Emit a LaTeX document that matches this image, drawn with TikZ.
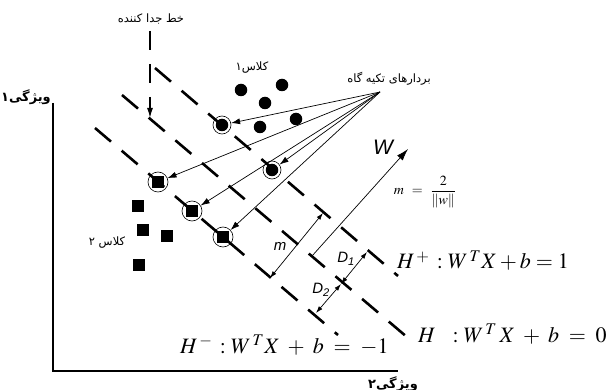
\documentclass[tikz,border=0pt]{standalone}
\usepackage{mathptmx}
\usepackage{fontspec}
\setmainfont{Liberation Serif}
\newfontfamily\fa[Script=Arabic]{DejaVu Sans}
\newfontfamily\arialf{Liberation Sans}
\TeXXeTstate=1
\usetikzlibrary{arrows.meta}
\tikzset{
  hyper/.style={line width=2.6pt, dash pattern=on 21pt off 14pt},
  axisline/.style={line width=2.6pt, line join=miter},
  dot/.style={circle, fill=black, minimum size=12.5pt, inner sep=0pt},
  sq/.style={rectangle, fill=black, minimum size=12pt, inner sep=0pt},
  ring/.style={circle, draw, line width=0.6pt, minimum size=#1, inner sep=0pt},
  ptr/.style={line width=0.7pt, -{Latex[length=9pt,width=6pt]}},
  dim/.style={line width=0.7pt, {Latex[length=7pt,width=4.5pt]}-{Latex[length=7pt,width=4.5pt]}},
  fatext/.style={font=\fa\fontsize{11.5}{13}\selectfont, inner sep=1pt},
  fabold/.style={font=\fa\bfseries\fontsize{13}{15}\selectfont, inner sep=1pt},
  eq/.style={font=\fontsize{22}{26}\selectfont, inner sep=0pt},
  sanslab/.style={font=\arialf\itshape\fontsize{15}{17}\selectfont, inner sep=0pt}
}
\begin{document}
\begin{tikzpicture}[x=1pt,y=-1pt]
\useasboundingbox (0,0) rectangle (613,390);
% axes
\coordinate (ytop) at (53,103);
\coordinate (orig) at (53,371);
\coordinate (xend) at (398,371);
\draw[axisline] (ytop) -- (orig) -- (xend);
\node[fabold, anchor=east] (f1l) at (52,97) {\beginR ویژگی۱\endR};
\node[fabold] (f2l) at (393,384) {\beginR ویژگی۲\endR};
% hyperplanes
\coordinate (ta) at (155,68);  \coordinate (tb) at (398,276);
\coordinate (ma) at (122,95);  \coordinate (mb) at (414,343);
\coordinate (ba) at (95,128);  \coordinate (bb) at (338,335);
\draw[hyper] (ta) -- (tb);
\draw[hyper] (ma) -- (mb);
\draw[hyper] (ba) -- (bb);
% separator label and arrow
\node[fatext] (sepl) at (151,19) {\beginR خط جدا کننده\endR};
\coordinate (septop) at (150,31);
\coordinate (septip) at (150,118);
\draw[line width=1.3pt, dash pattern=on 19pt off 14pt, -{Latex[length=10pt,width=6pt]}] (septop) -- (septip);
% class 1
\node[fatext] (c1l) at (252,68) {\beginR کلاس۱\endR};
\node[dot] (d1) at (241,90) {};
\node[dot] (d2) at (282,85) {};
\node[dot] (d3) at (265,103) {};
\node[dot] (d4) at (260,127) {};
\node[dot] (d5) at (296,119) {};
\node[dot] (d6) at (222,125) {};
\node[dot] (d7) at (272,170) {};
\node[ring=18pt] (r1) at (222,125) {};
\node[ring=18pt] (r2) at (272,170) {};
% class 2
\node[fatext] (c2l) at (107,243) {\beginR کلاس ۲\endR};
\node[sq] (s1) at (138,206) {};
\node[sq] (s2) at (143,230) {};
\node[sq] (s3) at (167,236) {};
\node[sq] (s4) at (139,265) {};
\node[sq] (s5) at (158,182) {};
\node[sq] (s6) at (192,211) {};
\node[sq] (s7) at (223,237) {};
\node[ring=20pt] (r3) at (158,182) {};
\node[ring=20pt] (r4) at (192,211) {};
\node[ring=20pt] (r5) at (223,237) {};
% support vectors
\node[fatext] (supl) at (389,79) {\beginR بردارهای تکیه گاه\endR};
\coordinate (src) at (380,92);
\draw[ptr] (src) -- (r1);
\draw[ptr] (src) -- (r3);
\draw[ptr] (src) -- (r2);
\draw[ptr] (src) -- (r4);
\draw[ptr] (src) -- (r5);
% W vector
\coordinate (wa) at (312,256);
\coordinate (wb) at (408,149);
\draw[line width=0.7pt, -{Latex[length=12pt,width=7.5pt]}] (wa) -- (wb);
\node[font=\arialf\itshape\fontsize{21}{24}\selectfont, inner sep=0pt] (wl) at (383,147) {W};
% margin
\coordinate (m1) at (270,278);
\coordinate (m2) at (323,213);
\draw[dim] (m1) -- (m2);
\node[sanslab] (ml) at (280,246) {m};
\coordinate (o) at (341,284);
\coordinate (p1) at (367,252);
\coordinate (p2) at (316,313);
\draw[dim] (o) -- (p1);
\draw[dim] (o) -- (p2);
\node[sanslab] (d1l) at (346,259) {D\textsubscript{1}};
\node[sanslab] (d2l) at (321,290) {D\textsubscript{2}};
% formulas
\node[font=\fontsize{14}{16}\selectfont, inner sep=0pt] (mf) at (425,192) {$m\;\,=\;\,\displaystyle\frac{2}{\|w\|}$};
\node[eq, anchor=base west] (hp) at (397,269) {$H^{\,+}\,:W^{\,T}X+b=1$};
\node[eq, anchor=base west] (h0) at (418,342) {$H\;\;\,:W^{\,T}\,X\;+\;b\;=\;0$};
\node[eq, anchor=base west] (hm) at (180,353) {$H^{\,-}\,:W^{\,T}X\;+\;b\;=\;-1$};
\end{tikzpicture}
\end{document}
